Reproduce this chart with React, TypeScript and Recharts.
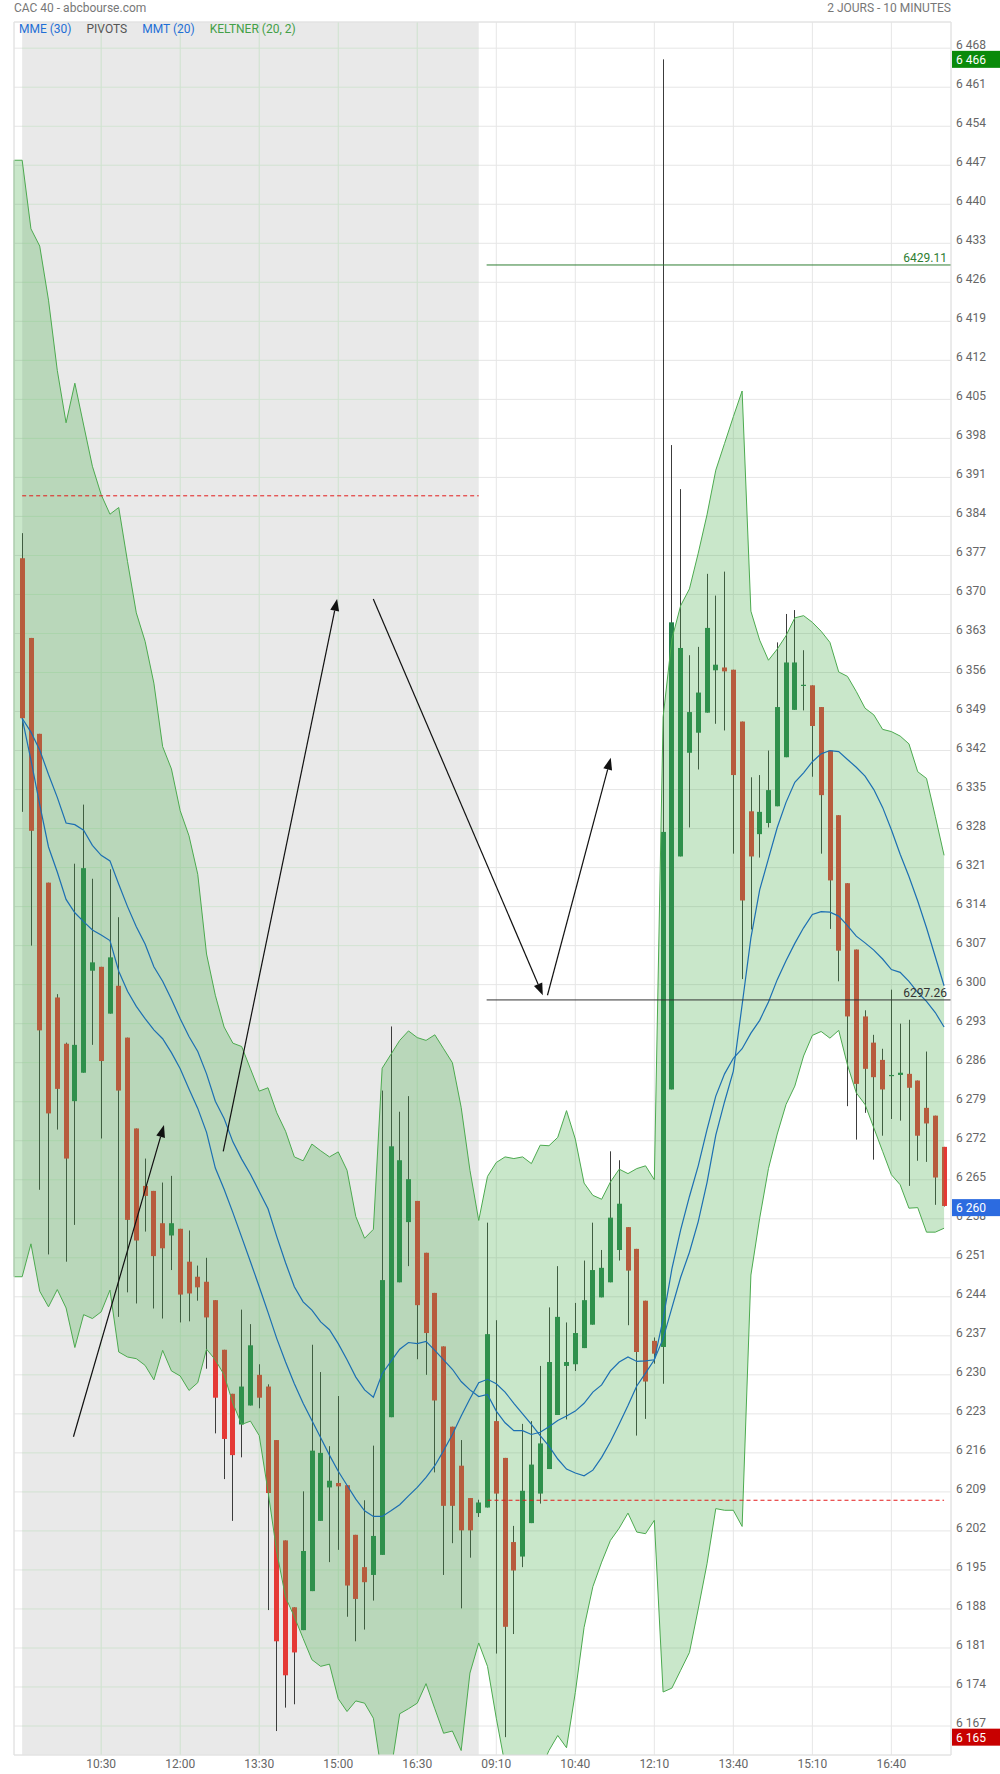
import React from 'react';
import {
  ComposedChart, Bar, Area, Line, XAxis, YAxis, CartesianGrid,
  ReferenceArea, ReferenceLine,
} from 'recharts';

// Heikin-Ashi candles, 10 min, two sessions (index 0..52 = day 1, 53..105 = day 2)
const open = [
  6376.5, 6362.2, 6345.0, 6318.3, 6297.7, 6289.4, 6279.1, 6284.2, 6302.5, 6303.2,
  6294.8, 6299.8, 6290.5, 6274.2, 6263.9, 6263.0, 6257.2, 6255.0, 6256.2, 6250.3,
  6247.6, 6246.7, 6243.4, 6234.5, 6226.6, 6221.1, 6224.5, 6230.0, 6227.9, 6218.3,
  6200.3, 6188.3, 6184.2, 6191.2, 6203.8, 6209.8, 6210.6, 6210.2, 6201.3, 6195.5,
  6194.1, 6197.7, 6222.4, 6246.6, 6257.4, 6261.2, 6251.9, 6244.7, 6235.1, 6220.7,
  6213.7, 6207.9, 6205.2, 6206.2, 6221.7, 6215.1, 6200.0, 6197.4, 6203.4, 6208.7,
  6213.1, 6222.8, 6231.6, 6231.9, 6234.8, 6239.0, 6243.9, 6246.6, 6252.4, 6256.5,
  6252.6, 6243.3, 6236.1, 6235.0, 6281.2, 6323.0, 6341.6, 6345.2, 6348.8, 6356.4,
  6356.9, 6356.5, 6347.2, 6331.1, 6327.0, 6329.0, 6332.0, 6340.8, 6349.3, 6353.6,
  6353.7, 6349.8, 6342.0, 6330.4, 6318.2, 6306.3, 6294.3, 6289.6, 6286.5, 6283.8,
  6283.8, 6284.0, 6282.8, 6277.9, 6276.5, 6270.9,
];
const high = [
  6381.0, 6362.2, 6345.0, 6318.3, 6298.3, 6289.6, 6321.7, 6332.3, 6319.0, 6303.2,
  6320.7, 6312.1, 6290.5, 6274.2, 6268.8, 6263.0, 6264.5, 6265.7, 6256.2, 6255.9,
  6249.6, 6251.0, 6243.4, 6234.5, 6226.6, 6241.7, 6239.1, 6231.9, 6228.3, 6218.3,
  6200.3, 6188.3, 6209.1, 6235.4, 6230.5, 6217.2, 6226.2, 6210.2, 6201.3, 6207.5,
  6217.3, 6281.0, 6292.5, 6277.2, 6280.0, 6261.2, 6251.9, 6244.7, 6235.1, 6220.7,
  6218.3, 6207.9, 6207.6, 6257.3, 6239.8, 6215.1, 6202.9, 6221.2, 6221.7, 6231.6,
  6242.1, 6249.5, 6239.4, 6242.9, 6250.5, 6257.3, 6252.4, 6270.1, 6268.5, 6256.5,
  6252.6, 6243.3, 6236.7, 6466.0, 6396.8, 6388.9, 6359.1, 6360.6, 6373.7, 6369.8,
  6374.1, 6356.5, 6347.2, 6337.2, 6337.6, 6342.0, 6361.4, 6366.5, 6367.2, 6360.0,
  6353.7, 6349.8, 6342.0, 6330.4, 6318.2, 6306.3, 6295.4, 6291.0, 6288.5, 6299.1,
  6293.0, 6293.7, 6282.8, 6288.0, 6276.5, 6270.9,
];
const low = [
  6331.0, 6307.0, 6263.2, 6251.6, 6274.0, 6250.3, 6256.9, 6284.2, 6289.2, 6272.4,
  6294.8, 6240.4, 6244.8, 6242.8, 6255.7, 6241.9, 6240.1, 6248.8, 6239.4, 6239.6,
  6243.3, 6231.1, 6219.5, 6211.3, 6203.8, 6215.2, 6224.5, 6224.0, 6187.8, 6166.1,
  6170.3, 6170.9, 6184.2, 6191.2, 6203.8, 6196.4, 6198.6, 6186.6, 6182.2, 6184.3,
  6189.5, 6197.7, 6222.4, 6246.6, 6249.5, 6232.8, 6230.0, 6212.5, 6194.1, 6199.8,
  6188.1, 6197.2, 6204.5, 6206.2, 6180.0, 6165.0, 6183.5, 6195.5, 6203.4, 6206.9,
  6213.1, 6222.8, 6222.0, 6230.7, 6234.8, 6239.0, 6243.9, 6246.6, 6250.5, 6238.9,
  6219.1, 6222.1, 6232.0, 6228.4, 6281.2, 6323.0, 6328.2, 6338.6, 6348.8, 6346.8,
  6345.6, 6323.5, 6301.0, 6309.9, 6322.8, 6328.2, 6332.0, 6340.8, 6349.3, 6349.2,
  6337.3, 6323.5, 6310.0, 6300.6, 6278.2, 6272.2, 6277.0, 6268.6, 6272.9, 6275.9,
  6275.6, 6263.9, 6268.4, 6268.2, 6260.5, 6260.2,
];
const close = [
  6347.8, 6327.6, 6291.8, 6276.9, 6281.3, 6268.8, 6289.2, 6320.9, 6304.0, 6286.3,
  6304.9, 6281.0, 6257.8, 6254.1, 6262.1, 6251.3, 6252.7, 6257.2, 6244.4, 6244.6,
  6245.7, 6240.3, 6225.9, 6218.5, 6215.6, 6227.9, 6235.3, 6225.9, 6208.8, 6182.2,
  6176.1, 6180.2, 6198.4, 6216.4, 6216.0, 6211.0, 6210.0, 6192.2, 6189.8, 6192.8,
  6201.1, 6247.0, 6271.0, 6268.5, 6265.1, 6242.5, 6237.5, 6225.4, 6206.5, 6206.5,
  6202.1, 6202.1, 6207.1, 6237.3, 6208.7, 6184.8, 6194.9, 6209.2, 6213.9, 6217.7,
  6232.3, 6240.4, 6232.3, 6237.5, 6243.4, 6248.8, 6249.2, 6258.2, 6260.7, 6248.7,
  6234.1, 6228.8, 6233.8, 6327.4, 6365.0, 6360.4, 6348.9, 6352.4, 6364.0, 6357.4,
  6356.2, 6337.6, 6315.1, 6323.0, 6331.0, 6334.9, 6349.8, 6357.8, 6357.8, 6353.8,
  6346.4, 6334.0, 6318.7, 6306.1, 6294.3, 6282.2, 6284.9, 6283.4, 6281.2, 6283.8,
  6284.2, 6281.5, 6272.9, 6275.1, 6265.4, 6260.3,
];

// Keltner (20, 2)
const keltnerUpper = [
  6447.9, 6435.6, 6432.5, 6422.8, 6410.2, 6400.8, 6407.9, 6400.4, 6393.0, 6387.9,
  6384.4, 6385.6, 6375.9, 6366.7, 6361.6, 6354.1, 6342.7, 6338.7, 6331.2, 6326.7,
  6319.8, 6305.5, 6298.1, 6292.4, 6289.5, 6288.9, 6284.9, 6280.9, 6281.5, 6277.0,
  6273.7, 6269.1, 6268.4, 6271.4, 6270.2, 6269.1, 6270.0, 6266.7, 6258.4, 6254.5,
  6256.1, 6285.0, 6287.5, 6290.0, 6291.7, 6290.5, 6290.0, 6291.0, 6288.5, 6286.0,
  6278.0, 6266.7, 6257.7, 6265.6, 6268.1, 6269.1, 6268.8, 6269.1, 6267.9, 6271.2,
  6271.1, 6272.6, 6277.4, 6272.3, 6264.4, 6262.2, 6261.5, 6264.6, 6266.9, 6266.1,
  6267.0, 6267.5, 6265.0, 6348.0, 6362.0, 6368.0, 6371.0, 6377.4, 6384.3, 6392.3,
  6397.1, 6401.9, 6406.5, 6367.0, 6361.8, 6358.2, 6360.2, 6362.6, 6365.8, 6366.2,
  6365.0, 6363.4, 6361.4, 6356.1, 6355.3, 6352.6, 6349.6, 6348.4, 6345.8, 6345.4,
  6344.6, 6343.2, 6338.2, 6337.0, 6330.2, 6323.2,
];
const keltnerLower = [
  6247.6, 6253.5, 6245.0, 6242.2, 6245.3, 6242.0, 6234.9, 6240.8, 6240.1, 6241.3,
  6245.2, 6234.1, 6233.2, 6232.9, 6231.7, 6229.1, 6234.4, 6230.7, 6229.8, 6227.2,
  6228.6, 6234.6, 6232.7, 6230.0, 6224.9, 6221.1, 6221.7, 6219.1, 6209.1, 6198.2,
  6190.1, 6186.6, 6182.7, 6178.9, 6177.7, 6178.1, 6171.9, 6169.6, 6171.5, 6171.1,
  6168.4, 6158.0, 6159.0, 6169.2, 6170.1, 6171.1, 6174.6, 6170.1, 6165.7, 6166.1,
  6162.6, 6176.5, 6181.9, 6177.7, 6168.4, 6160.0, 6152.0, 6150.0, 6153.0, 6159.0,
  6162.6, 6165.3, 6163.1, 6173.0, 6184.7, 6192.0, 6196.4, 6200.3, 6202.5, 6205.2,
  6201.8, 6201.5, 6203.9, 6173.1, 6173.8, 6177.0, 6180.2, 6188.0, 6196.1, 6206.0,
  6205.7, 6205.7, 6202.8, 6247.9, 6258.1, 6267.0, 6273.2, 6278.5, 6281.8, 6287.2,
  6290.9, 6291.6, 6290.4, 6291.8, 6285.6, 6280.6, 6278.5, 6274.3, 6270.1, 6265.9,
  6264.1, 6259.9, 6260.0, 6255.6, 6255.6, 6256.3,
];

// MME (30) / MMT (20)
const mme = [
  6347.8, 6345.3, 6342.1, 6337.7, 6333.6, 6329.0, 6328.7, 6327.7, 6325.0, 6323.2,
  6322.2, 6318.0, 6314.0, 6310.4, 6307.3, 6303.2, 6300.6, 6297.4, 6293.9, 6290.7,
  6288.0, 6284.0, 6279.1, 6276.0, 6271.8, 6268.7, 6266.0, 6262.9, 6259.8, 6254.8,
  6250.1, 6245.8, 6243.1, 6241.6, 6239.5, 6238.1, 6235.6, 6232.7, 6229.6, 6227.3,
  6226.0, 6230.2, 6232.4, 6234.6, 6235.8, 6235.6, 6236.0, 6234.4, 6232.7, 6231.0,
  6228.8, 6227.3, 6226.1, 6226.5, 6223.5, 6221.4, 6220.0, 6220.0, 6219.3, 6219.7,
  6220.7, 6221.8, 6222.6, 6223.5, 6224.9, 6226.9, 6228.2, 6230.7, 6232.3, 6233.2,
  6232.4, 6232.5, 6232.7, 6236.5, 6242.0, 6247.5, 6252.0, 6257.5, 6264.5, 6273.0,
  6279.0, 6284.5, 6296.4, 6308.4, 6317.0, 6322.6, 6328.2, 6332.7, 6336.3, 6338.0,
  6340.0, 6341.4, 6342.0, 6341.8, 6340.4, 6339.0, 6337.4, 6335.0, 6331.8, 6327.8,
  6323.4, 6319.4, 6315.0, 6310.2, 6305.0, 6299.8,
];
const mmt = [
  6347.8, 6340.3, 6332.3, 6324.7, 6320.2, 6315.3, 6312.9, 6311.3, 6309.8, 6308.9,
  6307.9, 6302.4, 6298.8, 6296.1, 6293.9, 6291.9, 6290.3, 6287.8, 6284.9, 6281.3,
  6277.8, 6273.5, 6267.1, 6263.3, 6259.1, 6254.7, 6250.3, 6245.8, 6241.2, 6236.5,
  6232.3, 6228.4, 6224.9, 6221.8, 6218.7, 6215.6, 6212.7, 6210.2, 6207.7, 6205.6,
  6204.6, 6204.6, 6205.6, 6206.7, 6208.3, 6209.8, 6211.6, 6213.7, 6216.4, 6219.3,
  6222.6, 6225.7, 6228.6, 6229.2, 6228.4, 6226.9, 6224.9, 6223.0, 6221.1, 6219.1,
  6217.2, 6214.9, 6213.1, 6212.4, 6211.9, 6212.9, 6215.2, 6218.0, 6221.2, 6224.5,
  6228.0, 6230.3, 6232.7, 6240.0, 6249.0, 6256.0, 6262.0, 6267.5, 6274.0, 6280.0,
  6284.0, 6286.8, 6288.5, 6291.3, 6293.6, 6296.9, 6300.9, 6304.3, 6307.4, 6310.2,
  6312.6, 6313.1, 6313.0, 6312.3, 6310.6, 6308.7, 6307.5, 6306.2, 6304.6, 6302.7,
  6302.2, 6300.6, 6298.6, 6297.0, 6295.0, 6292.4,
];

const xTicks = [9, 18, 27, 36, 45, 54, 63, 72, 81, 90, 99];
const xTickLabels = ['10:30', '12:00', '13:30', '15:00', '16:30', '09:10', '10:40', '12:10', '13:40', '15:10', '16:40'];
const yTicks = [
  6167, 6174, 6181, 6188, 6195, 6202, 6209, 6216, 6223, 6230, 6237, 6244, 6251, 6258, 6265,
  6272, 6279, 6286, 6293, 6300, 6307, 6314, 6321, 6328, 6335, 6342, 6349, 6356, 6363, 6370,
  6377, 6384, 6391, 6398, 6405, 6412, 6419, 6426, 6433, 6440, 6447, 6454, 6461, 6468,
];
const dayOneTicks = [9, 18, 27, 36, 45];

const pivots = [
  { from: 0, to: 52, value: 6387.7 },
  { from: 53, to: 105, value: 6207.5 },
];
const levels = [
  { value: 6429.11, color: '#2e7d32' },
  { value: 6297.26, color: '#333333' },
];
const priceTags = [
  { value: 6466, color: '#0a8a0a' },
  { value: 6260, color: '#2c6be0' },
  { value: 6165, color: '#c80000' },
];
// hand-drawn arrows: [candle index, price] -> [candle index, price]
const arrows = [
  { from: [5.84, 6218.9], to: [16.15, 6274.8] },
  { from: [22.9, 6270.1], to: [35.87, 6369.2] },
  { from: [39.99, 6369.2], to: [59.3, 6298.1] },
  { from: [59.83, 6298.1], to: [67.04, 6340.7] },
];

const DAY1_END = 52;
const DAY2_START = 52.9;
const X_MIN = -0.93;
const X_MAX = 105.79;
const Y_MIN = 6161.8;
const Y_MAX = 6472.7;

const UP = '#23834b';
const DOWN = '#e53935';
const BAND = '#4caf50';
const BAND_LINE = '#4caa4f';
const FONT = 'Roboto, "Noto Sans", sans-serif';

const data = open.map((o, i) => ({
  i, o, h: high[i], l: low[i], c: close[i],
  ku: keltnerUpper[i], kl: keltnerLower[i], mme: mme[i], mmt: mmt[i],
}));

function fmtPrice(v: number) {
  const s = String(Math.round(v));
  return `${s.slice(0, s.length - 3)} ${s.slice(-3)}`;
}

function Candle(props: any) {
  const { x, y, width, height, payload } = props;
  if (x == null || y == null) return null;
  const { o, h, l, c } = payload;
  const top = Math.min(y, y + height);
  const hgt = Math.abs(height);
  const cx = Math.round(x + width / 2) + 0.5;
  const span = h - l || 1;
  const toY = (v: number) => top + ((h - v) / span) * hgt;
  const bTop = toY(Math.max(o, c));
  const bBot = toY(Math.min(o, c));
  return (
    <g>
      <line x1={cx} x2={cx} y1={top} y2={top + hgt} stroke="#3c3c3c" strokeWidth={1} />
      <rect x={cx - 2.5} y={bTop} width={5} height={Math.max(1.2, bBot - bTop)} fill={c >= o ? UP : DOWN} />
    </g>
  );
}

function PriceTick({ x, y, payload }: any) {
  return (
    <text x={x} y={y} dy={1} fill="#666" fontSize={12} fontFamily={FONT} textAnchor="start">
      {fmtPrice(payload.value)}
    </text>
  );
}

function TimeTick({ x, y, payload }: any) {
  const idx = xTicks.indexOf(payload.value);
  return (
    <text x={x} y={y} dy={9} fill="#666" fontSize={12} fontFamily={FONT} textAnchor="middle">
      {xTickLabels[idx]}
    </text>
  );
}

function TagLabel({ viewBox, color, text }: any) {
  if (!viewBox) return null;
  const right = viewBox.x + viewBox.width;
  const cy = viewBox.y;
  return (
    <g>
      <rect x={right + 1} y={cy - 8.5} width={50} height={17} fill={color} />
      <text x={right + 5} y={cy + 4.5} fill="#fff" fontSize={12} fontFamily={FONT}>{text}</text>
    </g>
  );
}

function LevelLabel({ viewBox, color, text }: any) {
  if (!viewBox) return null;
  return (
    <text x={viewBox.x + viewBox.width - 4} y={viewBox.y - 3} fill={color} fontSize={12}
      fontFamily={FONT} textAnchor="end">
      {text}
    </text>
  );
}

function ArrowShape(props: any) {
  const { x1, y1, x2, y2 } = props;
  if ([x1, y1, x2, y2].some(v => v == null || Number.isNaN(v))) return null;
  const ang = Math.atan2(y2 - y1, x2 - x1);
  const len = 12;
  const wing = 4.5;
  const bx = x2 - len * Math.cos(ang);
  const by = y2 - len * Math.sin(ang);
  const px = -Math.sin(ang) * wing;
  const py = Math.cos(ang) * wing;
  return (
    <g>
      <line x1={x1} y1={y1} x2={bx} y2={by} stroke="#111" strokeWidth={1.2} />
      <polygon points={`${x2},${y2} ${bx + px},${by + py} ${bx - px},${by - py}`} fill="#111" />
    </g>
  );
}

export default function App() {
  const k0Upper = keltnerUpper[0];
  const k0Lower = keltnerLower[0];
  return (
    <div style={{ position: 'absolute', left: 0, top: 0, width: 1000, height: 1774, background: '#fff', fontFamily: FONT }}>
      <div style={{ position: 'absolute', left: 14, top: 0, fontSize: 12, lineHeight: '17px', color: '#777' }}>
        CAC 40 - abcbourse.com
      </div>
      <div style={{ position: 'absolute', right: 49, top: 0, fontSize: 12, lineHeight: '17px', color: '#777' }}>
        2 JOURS - 10 MINUTES
      </div>

      <ComposedChart
        width={1000}
        height={1774}
        data={data}
        margin={{ top: 22, right: 0, bottom: 0, left: 14 }}
      >
        <ReferenceArea x1={0} x2={DAY1_END} fill="#e9e9e9" fillOpacity={1} stroke="none" zIndex={-150} />
        <CartesianGrid stroke="#e6e6e6" strokeWidth={1} zIndex={-100} />
        {yTicks.map(v => (
          <ReferenceLine key={`gh${v}`} segment={[{ x: 0, y: v }, { x: DAY1_END, y: v }]}
            stroke="#d3e4d3" strokeWidth={1} zIndex={-90} />
        ))}
        {dayOneTicks.map(v => (
          <ReferenceLine key={`gv${v}`} x={v} stroke="#cfe3cf" strokeWidth={1} zIndex={-90} />
        ))}

        <XAxis
          dataKey="i"
          type="number"
          domain={[X_MIN, X_MAX]}
          allowDataOverflow
          ticks={xTicks}
          interval={0}
          tick={<TimeTick />}
          axisLine={false}
          tickLine={false}
          tickSize={0}
          tickMargin={4}
          height={19}
        />
        <YAxis
          orientation="right"
          domain={[Y_MIN, Y_MAX]}
          allowDataOverflow
          ticks={yTicks}
          interval={0}
          tick={<PriceTick />}
          axisLine={false}
          tickLine={false}
          tickSize={0}
          tickMargin={5}
          width={49}
        />

        <Bar
          dataKey={(d: any) => [d.l, d.h]}
          barSize={6}
          shape={<Candle />}
          isAnimationActive={false}
          zIndex={50}
        />
        <Area
          type="linear"
          dataKey={(d: any) => [d.kl, d.ku]}
          stroke={BAND_LINE}
          strokeWidth={1}
          fill={BAND}
          fillOpacity={0.3}
          dot={false}
          activeDot={false}
          isAnimationActive={false}
          zIndex={100}
        />
        {/* band carried flat to the left frame edge, as on the source */}
        <ReferenceArea x1={X_MIN} x2={0} y1={k0Lower} y2={k0Upper} fill={BAND} fillOpacity={0.3} stroke="none" zIndex={100} />
        <ReferenceLine segment={[{ x: X_MIN, y: k0Upper }, { x: 0, y: k0Upper }]} stroke={BAND_LINE} zIndex={100} />
        <ReferenceLine segment={[{ x: X_MIN, y: k0Lower }, { x: 0, y: k0Lower }]} stroke={BAND_LINE} zIndex={100} />
        <ReferenceLine segment={[{ x: X_MIN, y: k0Lower }, { x: X_MIN, y: k0Upper }]} stroke={BAND_LINE} zIndex={100} />

        <Line type="linear" dataKey="mme" stroke="#1c6fb2" strokeWidth={1.2} dot={false} activeDot={false} isAnimationActive={false} zIndex={400} />
        <Line type="linear" dataKey="mmt" stroke="#1c6fb2" strokeWidth={1.2} dot={false} activeDot={false} isAnimationActive={false} zIndex={400} />

        {pivots.map(p => (
          <ReferenceLine key={`pv${p.value}`} segment={[{ x: p.from, y: p.value }, { x: p.to, y: p.value }]}
            stroke="#e31b1b" strokeWidth={1} strokeDasharray="4 3" zIndex={450} />
        ))}
        {levels.map(lv => (
          <ReferenceLine key={`lv${lv.value}`} segment={[{ x: DAY2_START, y: lv.value }, { x: X_MAX, y: lv.value }]}
            stroke={lv.color} strokeWidth={1} zIndex={450}
            label={<LevelLabel color={lv.color} text={lv.value.toFixed(2)} />} />
        ))}
        {arrows.map((a, k) => (
          <ReferenceLine key={`ar${k}`} segment={[{ x: a.from[0], y: a.from[1] }, { x: a.to[0], y: a.to[1] }]}
            shape={<ArrowShape />} zIndex={460} />
        ))}
        <ReferenceArea x1={X_MIN} x2={X_MAX} fill="none" stroke="#e2e2e2" strokeWidth={1} zIndex={470} />
        {priceTags.map(t => (
          <ReferenceLine key={`tg${t.value}`} y={t.value} stroke="none" zIndex={2100}
            label={<TagLabel color={t.color} text={fmtPrice(t.value)} />} />
        ))}
      </ComposedChart>

      <div style={{ position: 'absolute', left: 19, top: 21, fontSize: 12, lineHeight: '16px', display: 'flex', gap: 15 }}>
        <span style={{ color: '#1f6fd6' }}>MME (30)</span>
        <span style={{ color: '#555' }}>PIVOTS</span>
        <span style={{ color: '#1f6fd6' }}>MMT (20)</span>
        <span style={{ color: '#43a047' }}>KELTNER (20, 2)</span>
      </div>
    </div>
  );
}
